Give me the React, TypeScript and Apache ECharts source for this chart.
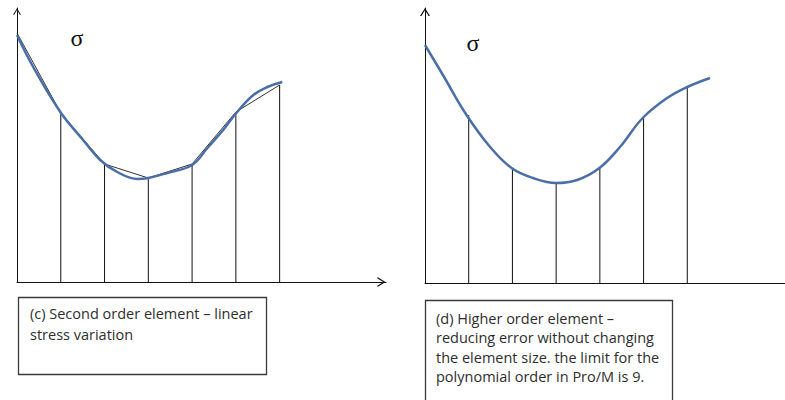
import React, { useEffect, useRef } from "react";
import * as echarts from "echarts";

// Left panel (c): second order element
const leftNodeX = [0, 1, 2, 3, 4, 5, 6];
const leftNodeY = [249, 169, 118, 104, 118, 170, 197];
const leftCurveX = [0, 0.37, 0.99, 1.51, 1.9, 2.29, 2.75, 3.0, 3.43, 4.0, 4.35, 4.71, 5.03, 5.4, 5.72, 6.06];
const leftCurveY = [247, 215, 170, 142, 122, 110, 103, 104, 109, 117, 134, 152, 170, 187, 195, 200];

// Right panel (d): higher order element
const rightNodeX = [1, 2, 3, 4, 5, 6];
const rightNodeY = [168, 115, 100, 115, 165, 196];
const rightCurveX = [0, 0.41, 0.95, 1.49, 1.98, 2.47, 3.0, 3.48, 3.99, 4.46, 4.98, 5.54, 6.0, 6.52];
const rightCurveY = [238, 208, 168, 136, 115, 105, 100, 103, 115, 136, 165, 185, 196, 205];

const symbolLabel = "σ";
const leftCaption = ["(c) Second order element – linear", "stress variation"];
const rightCaption = [
  "(d) Higher order element –",
  "reducing error without changing",
  "the element size. the limit for the",
  "polynomial order in Pro/M is 9.",
];

const zip = (xs: number[], ys: number[]) => xs.map((x, i) => [x, ys[i]]);

const arrowPath = "path://M5,0 L10,8 L8.6,8 L5,2.2 L1.4,8 L0,8 Z";
const BLUE = "#4a6fa8";

function axisLine(size: number[]) {
  return {
    show: true,
    onZero: false,
    symbol: ["none", arrowPath],
    symbolSize: size,
    symbolOffset: [0, -size[1] / 2],
    lineStyle: { color: "#111", width: 1 },
  };
}

export default function App() {
  const ref = useRef<HTMLDivElement>(null);
  useEffect(() => {
    if (!ref.current) return;
    const chart = echarts.init(ref.current, null, { renderer: "svg" });
    const commonAxis = {
      type: "value",
      axisTick: { show: false },
      axisLabel: { show: false },
      splitLine: { show: false },
    };
    const captionFont = '14.5px "Open Sans", sans-serif';
    chart.setOption({
      animation: false,
      grid: [
        { left: 17, top: 8, width: 369, height: 274, outerBoundsMode: "none", containLabel: false },
        { left: 425, top: 8, width: 372, height: 275, outerBoundsMode: "none", containLabel: false },
      ],
      xAxis: [
        { ...commonAxis, gridIndex: 0, min: 0, max: 8.43, axisLine: axisLine([10, 9]) },
        { ...commonAxis, gridIndex: 1, min: 0, max: 8.51, axisLine: axisLine([10, 9]) },
      ],
      yAxis: [
        { ...commonAxis, gridIndex: 0, min: 0, max: 274, axisLine: axisLine([8, 7]) },
        { ...commonAxis, gridIndex: 1, min: 0, max: 275, axisLine: axisLine([10, 8]) },
      ],
      series: [
        {
          type: "bar",
          xAxisIndex: 0,
          yAxisIndex: 0,
          barWidth: 1,
          itemStyle: { color: "#111" },
          data: zip(leftNodeX.slice(1), leftNodeY.slice(1)),
        },
        {
          type: "line",
          xAxisIndex: 0,
          yAxisIndex: 0,
          showSymbol: false,
          lineStyle: { color: "#333", width: 1 },
          data: zip(leftNodeX, leftNodeY),
          z: 3,
        },
        {
          type: "line",
          xAxisIndex: 0,
          yAxisIndex: 0,
          showSymbol: false,
          smooth: 0.4,
          lineStyle: { color: BLUE, width: 2.5 },
          data: zip(leftCurveX, leftCurveY),
          z: 4,
        },
        {
          type: "bar",
          xAxisIndex: 1,
          yAxisIndex: 1,
          barWidth: 1,
          itemStyle: { color: "#111" },
          data: zip(rightNodeX, rightNodeY),
        },
        {
          type: "line",
          xAxisIndex: 1,
          yAxisIndex: 1,
          showSymbol: false,
          smooth: 0.4,
          lineStyle: { color: BLUE, width: 2.5 },
          data: zip(rightCurveX, rightCurveY),
          z: 4,
        },
      ],
      graphic: [
        {
          type: "text",
          x: 77,
          y: 38,
          style: {
            text: symbolLabel,
            font: '24px "Liberation Serif", serif',
            fill: "#111",
            align: "center",
            verticalAlign: "middle",
          },
        },
        {
          type: "text",
          x: 473,
          y: 43,
          style: {
            text: symbolLabel,
            font: '24px "Liberation Serif", serif',
            fill: "#111",
            align: "center",
            verticalAlign: "middle",
          },
        },
        {
          type: "rect",
          shape: { x: 18.5, y: 297.5, width: 248, height: 77 },
          style: { fill: "#fff", stroke: "#3a3a3a", lineWidth: 1.3 },
        },
        ...leftCaption.map((t, i) => ({
          type: "text",
          x: 30,
          y: 313 + i * 21,
          style: { text: t, font: captionFont, fill: "#2e2e2e", verticalAlign: "middle" },
        })),
        {
          type: "rect",
          shape: { x: 425.5, y: 300.5, width: 247, height: 120 },
          style: { fill: "#fff", stroke: "#3a3a3a", lineWidth: 1.3 },
        },
        ...rightCaption.map((t, i) => ({
          type: "text",
          x: 436,
          y: 318 + i * 19.6,
          style: { text: t, font: captionFont, fill: "#2e2e2e", verticalAlign: "middle" },
        })),
      ],
    });
    return () => chart.dispose();
  }, []);
  return (
    <div
      ref={ref}
      style={{ position: "fixed", left: 0, top: 0, width: 785, height: 400, background: "#fff" }}
    />
  );
}
